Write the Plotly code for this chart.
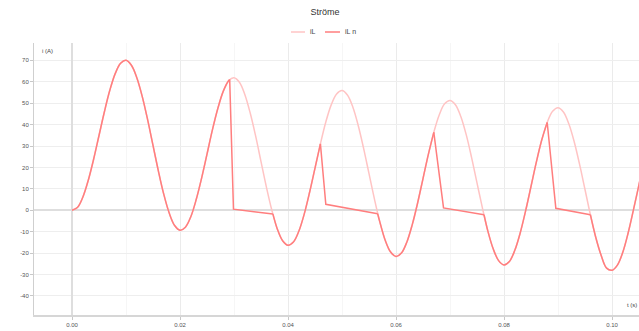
import plotly.graph_objects as go

# ---- data ----
title_text = "Ströme"
name_1 = "iL"
name_2 = "iL n"

# series 1, sampled every ms
t1_ms = list(range(0, 108))
i1 = [0, 1.3, 6.1, 13.9, 23.8, 34.9, 46.0, 56.0, 63.8, 68.6,
      70.0, 67.7, 61.9, 53.2, 42.3, 30.3, 18.3, 7.4, -1.3, -7.1,
      -9.3, -7.9, -3.0, 5.0, 15.0, 26.2, 37.5, 47.5, 55.5, 60.5,
      61.9, 59.8, 54.1, 45.4, 34.7, 22.7, 10.8, 0.1, -8.6, -14.2,
      -16.3, -14.8, -9.8, -1.8, 8.4, 19.7, 31.0, 41.2, 49.2, 54.3,
      55.9, 53.8, 48.2, 39.6, 28.9, 17.1, 5.3, -5.4, -14.0, -19.5,
      -21.6, -20.0, -14.9, -6.8, 3.4, 14.8, 26.2, 36.4, 44.5, 49.7,
      51.3, 49.3, 43.8, 35.3, 24.6, 12.8, 1.1, -9.6, -18.0, -23.5,
      -25.5, -23.9, -18.7, -10.6, -0.3, 11.1, 22.6, 32.9, 41.0, 46.2,
      47.9, 45.9, 40.4, 32.0, 21.4, 9.7, -2.1, -12.7, -21.1, -27.0,
      -28.0, -25.6, -19.6, -10.5, 0.5, 12.0, 23.5, 34.0]

# series 2: curved parts (follow series 1), None separates the pieces
t2_curve_ms = [0, 1, 2, 3, 4, 5, 6, 7, 8, 9,
               10, 11, 12, 13, 14, 15, 16, 17, 18, 19,
               20, 21, 22, 23, 24, 25, 26, 27, 28, 29, 29.2, None,
               37.2, 38, 39, 40, 41, 42, 43, 44, 45, 46, None,
               56.6, 57, 58, 59, 60, 61, 62, 63, 64, 65, 66, 67, None,
               76.3, 77, 78, 79, 80, 81, 82, 83, 84, 85, 86, 87, 88, None,
               96, 97, 98, 99, 100, 101, 102, 103, 104, 105, 106, 107]
i2_curve = [0, 1.3, 6.1, 13.9, 23.8, 34.9, 46.0, 56.0, 63.8, 68.6,
            70.0, 67.7, 61.9, 53.2, 42.3, 30.3, 18.3, 7.4, -1.3, -7.1,
            -9.3, -7.9, -3.0, 5.0, 15.0, 26.2, 37.5, 47.5, 55.5, 60.5, 61.0, None,
            -1.7, -8.6, -14.2, -16.3, -14.8, -9.8, -1.8, 8.4, 19.7, 31.0, None,
            -1.6, -5.4, -14.0, -19.5, -21.6, -20.0, -14.9, -6.8, 3.4, 14.8, 26.2, 36.4, None,
            -2.1, -9.6, -18.0, -23.5, -25.5, -23.9, -18.7, -10.6, -0.3, 11.1, 22.6, 32.9, 41.0, None,
            -2.1, -12.7, -21.1, -27.0, -28.0, -25.6, -19.6, -10.5, 0.5, 12.0, 23.5, 34.0]
# series 2: switching parts (drop, then almost flat until it meets series 1)
t2_switch_ms = [29.2, 29.9, 37.2, None,
                46, 47.0, 56.6, None,
                67, 68.8, 76.3, None,
                88, 89.6, 96]
i2_switch = [61.0, 0.5, -1.7, None,
             31.0, 2.8, -1.6, None,
             36.4, 1.1, -2.1, None,
             41.0, 0.9, -2.1]

x_ticks = [0.00, 0.02, 0.04, 0.06, 0.08, 0.10]
x_ticklabels = ["0.00", "0.02", "0.04", "0.06", "0.08", "0.10"]
y_ticks = [70, 60, 50, 40, 30, 20, 10, 0, -10, -20, -30, -40]
y_ticklabels = ["70", "60", "50", "40", "30", "20", "10", "0", "-10", "-20", "-30", "-40"]

col_1 = "#ffc4c4"
col_2 = "#ff7e7e"


def to_s(vals):
    return [None if v is None else v / 1000 for v in vals]


fig = go.Figure()
fig.add_trace(go.Scatter(x=to_s(t1_ms), y=i1, mode="lines", name=name_1,
                         line=dict(color=col_1, width=1.5, shape="spline", smoothing=1),
                         showlegend=False))
fig.add_trace(go.Scatter(x=to_s(t2_curve_ms), y=i2_curve, mode="lines", name=name_2,
                         legendgroup="s2", connectgaps=False,
                         line=dict(color=col_2, width=1.5, shape="spline", smoothing=1),
                         showlegend=False))
fig.add_trace(go.Scatter(x=to_s(t2_switch_ms), y=i2_switch, mode="lines", name=name_2,
                         legendgroup="s2", connectgaps=False,
                         line=dict(color=col_2, width=1.5, shape="linear"),
                         showlegend=False))

W, H = 639, 331
L, R, T, B = 34, 0, 43, 16
pw, ph = W - L - R, H - T - B


def px(x):
    return (x - L) / pw


def py(y):
    return (H - B - y) / ph


font = "Liberation Sans, Arial, sans-serif"

# legend drawn by hand to match the small reference legend
shapes = [
    dict(type="line", xref="paper", yref="paper", x0=px(291), x1=px(305), y0=py(32), y1=py(32),
         line=dict(color=col_1, width=1.5)),
    dict(type="line", xref="paper", yref="paper", x0=px(325), x1=px(340), y0=py(32), y1=py(32),
         line=dict(color=col_2, width=1.5)),
]
annotations = [
    dict(text=name_1, xref="paper", yref="paper", x=px(308), y=py(32), xanchor="left", yanchor="middle",
         showarrow=False, font=dict(size=7, color="#444", family=font)),
    dict(text=name_2, xref="paper", yref="paper", x=px(343), y=py(32), xanchor="left", yanchor="middle",
         showarrow=False, font=dict(size=7, color="#444", family=font)),
    dict(text="i (A)", xref="paper", yref="paper", x=px(40), y=py(51), xanchor="left", yanchor="middle",
         showarrow=False, font=dict(size=6, color="#444", family=font)),
    dict(text="t (s)", xref="paper", yref="paper", x=1.0, y=py(305), xanchor="right", yanchor="middle",
         showarrow=False, font=dict(size=6, color="#444", family=font)),
]

fig.update_layout(
    width=W, height=H,
    margin=dict(l=L, r=R, t=T, b=B, pad=0, autoexpand=False),
    paper_bgcolor="white", plot_bgcolor="white",
    title=dict(text=title_text, x=325 / W, xanchor="center", y=1 - 12 / H, yanchor="middle",
               font=dict(size=9, color="#333", family=font)),
    shapes=shapes, annotations=annotations,
    showlegend=False,
    xaxis=dict(range=[-0.00704, 0.105], tickvals=x_ticks, ticktext=x_ticklabels,
               automargin=False,
               showgrid=True, gridcolor="#ebebeb", gridwidth=1,
               minor=dict(dtick=0.01, tick0=0, showgrid=True, gridcolor="#f6f6f6", gridwidth=1),
               zeroline=True, zerolinecolor="#dedede", zerolinewidth=1.5,
               showline=True, linecolor="#d6d6d6", linewidth=2,
               ticks="outside", ticklen=3, tickcolor="#c8c8c8",
               tickfont=dict(size=6, color="#555", family=font), fixedrange=True),
    yaxis=dict(range=[-48.9, 78.1], tickvals=y_ticks, ticktext=y_ticklabels,
               automargin=False,
               showgrid=True, gridcolor="#eeeeee", gridwidth=1,
               zeroline=True, zerolinecolor="#dedede", zerolinewidth=2,
               showline=True, linecolor="#cfcfcf", linewidth=1,
               ticks="outside", ticklen=3, tickcolor="#c8c8c8",
               tickfont=dict(size=6, color="#555", family=font), fixedrange=True),
)

fig.write_html("out.html", config={"displayModeBar": False},
               post_script="document.body.style.margin='0';document.body.style.overflow='hidden';")
